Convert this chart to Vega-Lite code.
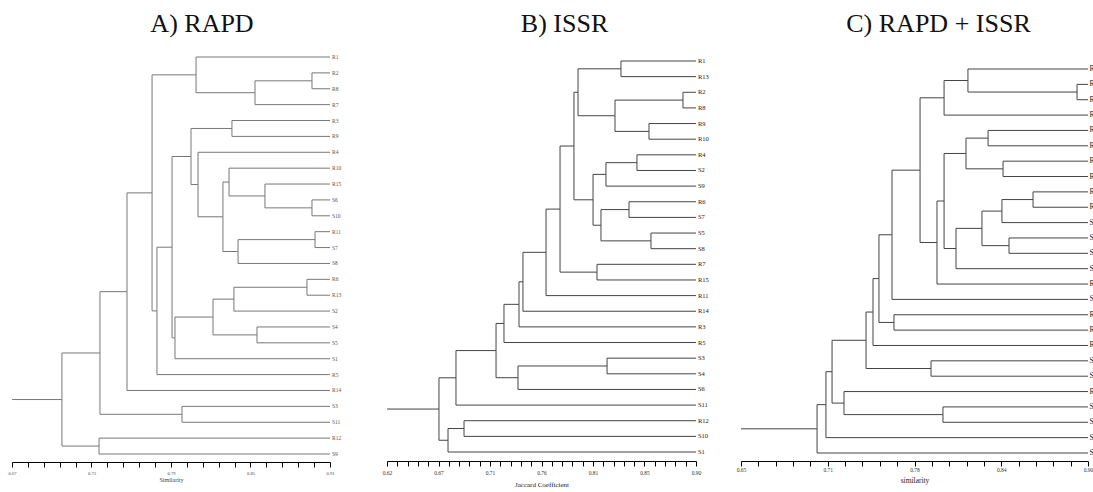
{
  "$schema": "https://vega.github.io/schema/vega-lite/v6.json",
  "padding": 0,
  "autosize": {"type": "pad"},
  "background": "white",
  "config": {"view": {"stroke": null}, "axis": {"grid": false}},
  "spacing": 45,
  "bounds": "flush",
  "datasets": {
    "A": [
      {"node": "R1", "label": "R1", "y": 0, "sim": 0.91, "parentSim": 0.8089, "parentY": 1.125},
      {"node": "R2", "label": "R2", "y": 1, "sim": 0.91, "parentSim": 0.8964, "parentY": 1.5},
      {"node": "R8", "label": "R8", "y": 2, "sim": 0.91, "parentSim": 0.8964, "parentY": 1.5},
      {"node": "R7", "label": "R7", "y": 3, "sim": 0.91, "parentSim": 0.8534, "parentY": 2.25},
      {"node": "R3", "label": "R3", "y": 4, "sim": 0.91, "parentSim": 0.836, "parentY": 4.5},
      {"node": "R9", "label": "R9", "y": 5, "sim": 0.91, "parentSim": 0.836, "parentY": 4.5},
      {"node": "R4", "label": "R4", "y": 6, "sim": 0.91, "parentSim": 0.8104, "parentY": 8.031},
      {"node": "R10", "label": "R10", "y": 7, "sim": 0.91, "parentSim": 0.8338, "parentY": 7.875},
      {"node": "R15", "label": "R15", "y": 8, "sim": 0.91, "parentSim": 0.8609, "parentY": 8.75},
      {"node": "S6", "label": "S6", "y": 9, "sim": 0.91, "parentSim": 0.8964, "parentY": 9.5},
      {"node": "S10", "label": "S10", "y": 10, "sim": 0.91, "parentSim": 0.8964, "parentY": 9.5},
      {"node": "R11", "label": "R11", "y": 11, "sim": 0.91, "parentSim": 0.8987, "parentY": 11.5},
      {"node": "S7", "label": "S7", "y": 12, "sim": 0.91, "parentSim": 0.8987, "parentY": 11.5},
      {"node": "S8", "label": "S8", "y": 13, "sim": 0.91, "parentSim": 0.8406, "parentY": 12.25},
      {"node": "R6", "label": "R6", "y": 14, "sim": 0.91, "parentSim": 0.8926, "parentY": 14.5},
      {"node": "R13", "label": "R13", "y": 15, "sim": 0.91, "parentSim": 0.8926, "parentY": 14.5},
      {"node": "S2", "label": "S2", "y": 16, "sim": 0.91, "parentSim": 0.8375, "parentY": 15.25},
      {"node": "S4", "label": "S4", "y": 17, "sim": 0.91, "parentSim": 0.8549, "parentY": 17.5},
      {"node": "S5", "label": "S5", "y": 18, "sim": 0.91, "parentSim": 0.8549, "parentY": 17.5},
      {"node": "S1", "label": "S1", "y": 19, "sim": 0.91, "parentSim": 0.793, "parentY": 17.688},
      {"node": "R5", "label": "R5", "y": 20, "sim": 0.91, "parentSim": 0.7794, "parentY": 15.988},
      {"node": "R14", "label": "R14", "y": 21, "sim": 0.91, "parentSim": 0.7568, "parentY": 14.778},
      {"node": "S3", "label": "S3", "y": 22, "sim": 0.91, "parentSim": 0.7983, "parentY": 22.5},
      {"node": "S11", "label": "S11", "y": 23, "sim": 0.91, "parentSim": 0.7983, "parentY": 22.5},
      {"node": "R12", "label": "R12", "y": 24, "sim": 0.91, "parentSim": 0.7357, "parentY": 24.5},
      {"node": "S9", "label": "S9", "y": 25, "sim": 0.91, "parentSim": 0.7357, "parentY": 24.5},
      {"node": "a1", "y": 1.5, "sim": 0.8964, "parentSim": 0.8534, "parentY": 2.25},
      {"node": "a2", "y": 2.25, "sim": 0.8534, "parentSim": 0.8089, "parentY": 1.125},
      {"node": "a3", "y": 1.125, "sim": 0.8089, "parentSim": 0.7757, "parentY": 8.557},
      {"node": "a4", "y": 4.5, "sim": 0.836, "parentSim": 0.8051, "parentY": 6.266},
      {"node": "a5", "y": 9.5, "sim": 0.8964, "parentSim": 0.8609, "parentY": 8.75},
      {"node": "a6", "y": 8.75, "sim": 0.8609, "parentSim": 0.8338, "parentY": 7.875},
      {"node": "a7", "y": 7.875, "sim": 0.8338, "parentSim": 0.8292, "parentY": 10.063},
      {"node": "a8", "y": 11.5, "sim": 0.8987, "parentSim": 0.8406, "parentY": 12.25},
      {"node": "a9", "y": 12.25, "sim": 0.8406, "parentSim": 0.8292, "parentY": 10.063},
      {"node": "a10", "y": 10.063, "sim": 0.8292, "parentSim": 0.8104, "parentY": 8.031},
      {"node": "a11", "y": 8.031, "sim": 0.8104, "parentSim": 0.8051, "parentY": 6.266},
      {"node": "a12", "y": 6.266, "sim": 0.8051, "parentSim": 0.7908, "parentY": 11.977},
      {"node": "a13", "y": 14.5, "sim": 0.8926, "parentSim": 0.8375, "parentY": 15.25},
      {"node": "a14", "y": 15.25, "sim": 0.8375, "parentSim": 0.8217, "parentY": 16.375},
      {"node": "a15", "y": 17.5, "sim": 0.8549, "parentSim": 0.8217, "parentY": 16.375},
      {"node": "a16", "y": 16.375, "sim": 0.8217, "parentSim": 0.793, "parentY": 17.688},
      {"node": "a17", "y": 17.688, "sim": 0.793, "parentSim": 0.7908, "parentY": 11.977},
      {"node": "a18", "y": 11.977, "sim": 0.7908, "parentSim": 0.7794, "parentY": 15.988},
      {"node": "a19", "y": 15.988, "sim": 0.7794, "parentSim": 0.7757, "parentY": 8.557},
      {"node": "a20", "y": 8.557, "sim": 0.7757, "parentSim": 0.7568, "parentY": 14.778},
      {"node": "a21", "y": 14.778, "sim": 0.7568, "parentSim": 0.7364, "parentY": 18.639},
      {"node": "a22", "y": 22.5, "sim": 0.7983, "parentSim": 0.7364, "parentY": 18.639},
      {"node": "a23", "y": 18.639, "sim": 0.7364, "parentSim": 0.7077, "parentY": 21.57},
      {"node": "a24", "y": 24.5, "sim": 0.7357, "parentSim": 0.7077, "parentY": 21.57},
      {"node": "root", "y": 21.57, "sim": 0.7077, "parentSim": 0.67, "parentY": 21.57}
    ],
    "B": [
      {"node": "R1", "label": "R1", "y": 0, "sim": 0.9, "parentSim": 0.832, "parentY": 0.5},
      {"node": "R13", "label": "R13", "y": 1, "sim": 0.9, "parentSim": 0.832, "parentY": 0.5},
      {"node": "R2", "label": "R2", "y": 2, "sim": 0.9, "parentSim": 0.8882, "parentY": 2.5},
      {"node": "R8", "label": "R8", "y": 3, "sim": 0.9, "parentSim": 0.8882, "parentY": 2.5},
      {"node": "R9", "label": "R9", "y": 4, "sim": 0.9, "parentSim": 0.8574, "parentY": 4.5},
      {"node": "R10", "label": "R10", "y": 5, "sim": 0.9, "parentSim": 0.8574, "parentY": 4.5},
      {"node": "R4", "label": "R4", "y": 6, "sim": 0.9, "parentSim": 0.8465, "parentY": 6.5},
      {"node": "S2", "label": "S2", "y": 7, "sim": 0.9, "parentSim": 0.8465, "parentY": 6.5},
      {"node": "S9", "label": "S9", "y": 8, "sim": 0.9, "parentSim": 0.8184, "parentY": 7.25},
      {"node": "R6", "label": "R6", "y": 9, "sim": 0.9, "parentSim": 0.8393, "parentY": 9.5},
      {"node": "S7", "label": "S7", "y": 10, "sim": 0.9, "parentSim": 0.8393, "parentY": 9.5},
      {"node": "S5", "label": "S5", "y": 11, "sim": 0.9, "parentSim": 0.8592, "parentY": 11.5},
      {"node": "S8", "label": "S8", "y": 12, "sim": 0.9, "parentSim": 0.8592, "parentY": 11.5},
      {"node": "R7", "label": "R7", "y": 13, "sim": 0.9, "parentSim": 0.8103, "parentY": 13.5},
      {"node": "R15", "label": "R15", "y": 14, "sim": 0.9, "parentSim": 0.8103, "parentY": 13.5},
      {"node": "R11", "label": "R11", "y": 15, "sim": 0.9, "parentSim": 0.7641, "parentY": 12.234},
      {"node": "R14", "label": "R14", "y": 16, "sim": 0.9, "parentSim": 0.7432, "parentY": 14.117},
      {"node": "R3", "label": "R3", "y": 17, "sim": 0.9, "parentSim": 0.7396, "parentY": 15.559},
      {"node": "R5", "label": "R5", "y": 18, "sim": 0.9, "parentSim": 0.726, "parentY": 16.779},
      {"node": "S3", "label": "S3", "y": 19, "sim": 0.9, "parentSim": 0.8194, "parentY": 19.5},
      {"node": "S4", "label": "S4", "y": 20, "sim": 0.9, "parentSim": 0.8194, "parentY": 19.5},
      {"node": "S6", "label": "S6", "y": 21, "sim": 0.9, "parentSim": 0.7387, "parentY": 20.25},
      {"node": "S11", "label": "S11", "y": 22, "sim": 0.9, "parentSim": 0.6825, "parentY": 20.257},
      {"node": "R12", "label": "R12", "y": 23, "sim": 0.9, "parentSim": 0.6898, "parentY": 23.5},
      {"node": "S10", "label": "S10", "y": 24, "sim": 0.9, "parentSim": 0.6898, "parentY": 23.5},
      {"node": "S1", "label": "S1", "y": 25, "sim": 0.9, "parentSim": 0.6753, "parentY": 24.25},
      {"node": "b1", "y": 0.5, "sim": 0.832, "parentSim": 0.7931, "parentY": 2.0},
      {"node": "b2", "y": 2.5, "sim": 0.8882, "parentSim": 0.8266, "parentY": 3.5},
      {"node": "b3", "y": 4.5, "sim": 0.8574, "parentSim": 0.8266, "parentY": 3.5},
      {"node": "b4", "y": 3.5, "sim": 0.8266, "parentSim": 0.7931, "parentY": 2.0},
      {"node": "b5", "y": 2.0, "sim": 0.7931, "parentSim": 0.7894, "parentY": 5.4375},
      {"node": "b6", "y": 6.5, "sim": 0.8465, "parentSim": 0.8184, "parentY": 7.25},
      {"node": "b7", "y": 7.25, "sim": 0.8184, "parentSim": 0.8067, "parentY": 8.875},
      {"node": "b8", "y": 9.5, "sim": 0.8393, "parentSim": 0.8139, "parentY": 10.5},
      {"node": "b9", "y": 11.5, "sim": 0.8592, "parentSim": 0.8139, "parentY": 10.5},
      {"node": "b10", "y": 10.5, "sim": 0.8139, "parentSim": 0.8067, "parentY": 8.875},
      {"node": "b11", "y": 8.875, "sim": 0.8067, "parentSim": 0.7894, "parentY": 5.4375},
      {"node": "b12", "y": 5.4375, "sim": 0.7894, "parentSim": 0.7768, "parentY": 9.469},
      {"node": "b13", "y": 13.5, "sim": 0.8103, "parentSim": 0.7768, "parentY": 9.469},
      {"node": "b14", "y": 9.469, "sim": 0.7768, "parentSim": 0.7641, "parentY": 12.234},
      {"node": "b15", "y": 12.234, "sim": 0.7641, "parentSim": 0.7432, "parentY": 14.117},
      {"node": "b16", "y": 14.117, "sim": 0.7432, "parentSim": 0.7396, "parentY": 15.559},
      {"node": "b17", "y": 15.559, "sim": 0.7396, "parentSim": 0.726, "parentY": 16.779},
      {"node": "b18", "y": 16.779, "sim": 0.726, "parentSim": 0.7188, "parentY": 18.515},
      {"node": "b19", "y": 19.5, "sim": 0.8194, "parentSim": 0.7387, "parentY": 20.25},
      {"node": "b20", "y": 20.25, "sim": 0.7387, "parentSim": 0.7188, "parentY": 18.515},
      {"node": "b21", "y": 18.515, "sim": 0.7188, "parentSim": 0.6825, "parentY": 20.257},
      {"node": "b22", "y": 20.257, "sim": 0.6825, "parentSim": 0.6671, "parentY": 22.254},
      {"node": "b23", "y": 23.5, "sim": 0.6898, "parentSim": 0.6753, "parentY": 24.25},
      {"node": "b24", "y": 24.25, "sim": 0.6753, "parentSim": 0.6671, "parentY": 22.254},
      {"node": "root", "y": 22.254, "sim": 0.6671, "parentSim": 0.62, "parentY": 22.254}
    ],
    "C": [
      {"node": "L0", "label": "R", "y": 0, "sim": 0.9, "parentSim": 0.8135, "parentY": 0.75},
      {"node": "L1", "label": "R", "y": 1, "sim": 0.9, "parentSim": 0.8921, "parentY": 1.5},
      {"node": "L2", "label": "R", "y": 2, "sim": 0.9, "parentSim": 0.8921, "parentY": 1.5},
      {"node": "L3", "label": "R", "y": 3, "sim": 0.9, "parentSim": 0.7963, "parentY": 1.875},
      {"node": "L4", "label": "R", "y": 4, "sim": 0.9, "parentSim": 0.828, "parentY": 4.5},
      {"node": "L5", "label": "R", "y": 5, "sim": 0.9, "parentSim": 0.828, "parentY": 4.5},
      {"node": "L6", "label": "R", "y": 6, "sim": 0.9, "parentSim": 0.8388, "parentY": 6.5},
      {"node": "L7", "label": "R", "y": 7, "sim": 0.9, "parentSim": 0.8388, "parentY": 6.5},
      {"node": "L8", "label": "R", "y": 8, "sim": 0.9, "parentSim": 0.8604, "parentY": 8.5},
      {"node": "L9", "label": "R", "y": 9, "sim": 0.9, "parentSim": 0.8604, "parentY": 8.5},
      {"node": "L10", "label": "S", "y": 10, "sim": 0.9, "parentSim": 0.838, "parentY": 9.25},
      {"node": "L11", "label": "S", "y": 11, "sim": 0.9, "parentSim": 0.8431, "parentY": 11.5},
      {"node": "L12", "label": "S", "y": 12, "sim": 0.9, "parentSim": 0.8431, "parentY": 11.5},
      {"node": "L13", "label": "S", "y": 13, "sim": 0.9, "parentSim": 0.8049, "parentY": 11.688},
      {"node": "L14", "label": "R", "y": 14, "sim": 0.9, "parentSim": 0.7912, "parentY": 11.297},
      {"node": "L15", "label": "S", "y": 15, "sim": 0.9, "parentSim": 0.7588, "parentY": 10.793},
      {"node": "L16", "label": "R", "y": 16, "sim": 0.9, "parentSim": 0.7602, "parentY": 16.5},
      {"node": "L17", "label": "R", "y": 17, "sim": 0.9, "parentSim": 0.7602, "parentY": 16.5},
      {"node": "L18", "label": "R", "y": 18, "sim": 0.9, "parentSim": 0.7451, "parentY": 15.823},
      {"node": "L19", "label": "S", "y": 19, "sim": 0.9, "parentSim": 0.7869, "parentY": 19.5},
      {"node": "L20", "label": "S", "y": 20, "sim": 0.9, "parentSim": 0.7869, "parentY": 19.5},
      {"node": "L21", "label": "R", "y": 21, "sim": 0.9, "parentSim": 0.7242, "parentY": 21.75},
      {"node": "L22", "label": "S", "y": 22, "sim": 0.9, "parentSim": 0.7955, "parentY": 22.5},
      {"node": "L23", "label": "S", "y": 23, "sim": 0.9, "parentSim": 0.7955, "parentY": 22.5},
      {"node": "L24", "label": "S", "y": 24, "sim": 0.9, "parentSim": 0.7112, "parentY": 21.853},
      {"node": "L25", "label": "S", "y": 25, "sim": 0.9, "parentSim": 0.7048, "parentY": 23.426},
      {"node": "c1", "y": 1.5, "sim": 0.8921, "parentSim": 0.8135, "parentY": 0.75},
      {"node": "c2", "y": 0.75, "sim": 0.8135, "parentSim": 0.7963, "parentY": 1.875},
      {"node": "c3", "y": 1.875, "sim": 0.7963, "parentSim": 0.779, "parentY": 6.586},
      {"node": "c4", "y": 4.5, "sim": 0.828, "parentSim": 0.8121, "parentY": 5.5},
      {"node": "c5", "y": 6.5, "sim": 0.8388, "parentSim": 0.8121, "parentY": 5.5},
      {"node": "c6", "y": 5.5, "sim": 0.8121, "parentSim": 0.7963, "parentY": 8.594},
      {"node": "c7", "y": 8.5, "sim": 0.8604, "parentSim": 0.838, "parentY": 9.25},
      {"node": "c8", "y": 9.25, "sim": 0.838, "parentSim": 0.8236, "parentY": 10.375},
      {"node": "c9", "y": 11.5, "sim": 0.8431, "parentSim": 0.8236, "parentY": 10.375},
      {"node": "c10", "y": 10.375, "sim": 0.8236, "parentSim": 0.8049, "parentY": 11.688},
      {"node": "c11", "y": 11.688, "sim": 0.8049, "parentSim": 0.7963, "parentY": 8.594},
      {"node": "c12", "y": 8.594, "sim": 0.7963, "parentSim": 0.7912, "parentY": 11.297},
      {"node": "c13", "y": 11.297, "sim": 0.7912, "parentSim": 0.779, "parentY": 6.586},
      {"node": "c14", "y": 6.586, "sim": 0.779, "parentSim": 0.7588, "parentY": 10.793},
      {"node": "c15", "y": 10.793, "sim": 0.7588, "parentSim": 0.7494, "parentY": 13.646},
      {"node": "c16", "y": 16.5, "sim": 0.7602, "parentSim": 0.7494, "parentY": 13.646},
      {"node": "c17", "y": 13.646, "sim": 0.7494, "parentSim": 0.7451, "parentY": 15.823},
      {"node": "c18", "y": 15.823, "sim": 0.7451, "parentSim": 0.7401, "parentY": 17.662},
      {"node": "c19", "y": 19.5, "sim": 0.7869, "parentSim": 0.7401, "parentY": 17.662},
      {"node": "c20", "y": 17.662, "sim": 0.7401, "parentSim": 0.7156, "parentY": 19.706},
      {"node": "c21", "y": 22.5, "sim": 0.7955, "parentSim": 0.7242, "parentY": 21.75},
      {"node": "c22", "y": 21.75, "sim": 0.7242, "parentSim": 0.7156, "parentY": 19.706},
      {"node": "c23", "y": 19.706, "sim": 0.7156, "parentSim": 0.7112, "parentY": 21.853},
      {"node": "c24", "y": 21.853, "sim": 0.7112, "parentSim": 0.7048, "parentY": 23.426},
      {"node": "root", "y": 23.426, "sim": 0.7048, "parentSim": 0.65, "parentY": 23.426}
    ]
  },
  "hconcat": [
    {
      "width": 330,
      "height": 462,
      "data": {"name": "A"},
      "title": {"text": "A) RAPD", "dx": 37, "offset": -58, "baseline": "alphabetic", "frame": "group", "anchor": "middle", "font": "Liberation Serif", "fontSize": 26, "fontWeight": "normal", "color": "#111"},
      "layer": [
        {
          "mark": {"type": "rule", "color": "#777", "strokeWidth": 1},
          "encoding": {
            "x": {"field": "parentSim", "type": "quantitative",
              "scale": {"domain": [0.67, 0.91], "range": [12, 330], "nice": false, "zero": false},
              "axis": {"title": "Similarity", "values": [0.67, 0.682, 0.694, 0.706, 0.718, 0.73, 0.742, 0.754, 0.766, 0.778, 0.79, 0.802, 0.814, 0.826, 0.838, 0.85, 0.862, 0.874, 0.886, 0.898, 0.91],
                "labelExpr": "abs(datum.value*100 - round(datum.value*100)) < 0.01 ? format(datum.value, '.2f') : ''",
                "labelFlush": false, "labelOverlap": false, "tickSize": 5, "tickColor": "#000", "domainColor": "#000", "tickWidth": 1, "domainWidth": 1.2,
                "labelFont": "Liberation Serif", "labelFontSize": 4.5, "labelColor": "#444", "labelPadding": 3,
                "titleFont": "Liberation Serif", "titleFontSize": 6, "titleFontWeight": "normal", "titleColor": "#444", "titlePadding": 2}},
            "x2": {"field": "sim"},
            "y": {"field": "y", "type": "quantitative", "scale": {"domain": [0, 25], "range": [57, 454], "nice": false, "zero": false}, "axis": null}
          }
        },
        {
          "mark": {"type": "rule", "color": "#777", "strokeWidth": 1},
          "encoding": {
            "x": {"field": "parentSim", "type": "quantitative",
              "scale": {"domain": [0.67, 0.91], "range": [12, 330], "nice": false, "zero": false},
              "axis": {"title": "Similarity", "values": [0.67, 0.682, 0.694, 0.706, 0.718, 0.73, 0.742, 0.754, 0.766, 0.778, 0.79, 0.802, 0.814, 0.826, 0.838, 0.85, 0.862, 0.874, 0.886, 0.898, 0.91],
                "labelExpr": "abs(datum.value*100 - round(datum.value*100)) < 0.01 ? format(datum.value, '.2f') : ''",
                "labelFlush": false, "labelOverlap": false, "tickSize": 5, "tickColor": "#000", "domainColor": "#000", "tickWidth": 1, "domainWidth": 1.2,
                "labelFont": "Liberation Serif", "labelFontSize": 4.5, "labelColor": "#444", "labelPadding": 3,
                "titleFont": "Liberation Serif", "titleFontSize": 6, "titleFontWeight": "normal", "titleColor": "#444", "titlePadding": 2}},
            "y": {"field": "y", "type": "quantitative", "scale": {"domain": [0, 25], "range": [57, 454], "nice": false, "zero": false}, "axis": null},
            "y2": {"field": "parentY"}
          }
        },
        {
          "transform": [{"filter": "datum.label"}],
          "mark": {"type": "text", "align": "left", "baseline": "middle", "dx": 2, "font": "Liberation Serif", "fontSize": 5.5, "color": "#555"},
          "encoding": {
            "x": {"field": "sim", "type": "quantitative",
              "scale": {"domain": [0.67, 0.91], "range": [12, 330], "nice": false, "zero": false},
              "axis": {"title": "Similarity", "values": [0.67, 0.682, 0.694, 0.706, 0.718, 0.73, 0.742, 0.754, 0.766, 0.778, 0.79, 0.802, 0.814, 0.826, 0.838, 0.85, 0.862, 0.874, 0.886, 0.898, 0.91],
                "labelExpr": "abs(datum.value*100 - round(datum.value*100)) < 0.01 ? format(datum.value, '.2f') : ''",
                "labelFlush": false, "labelOverlap": false, "tickSize": 5, "tickColor": "#000", "domainColor": "#000", "tickWidth": 1, "domainWidth": 1.2,
                "labelFont": "Liberation Serif", "labelFontSize": 4.5, "labelColor": "#444", "labelPadding": 3,
                "titleFont": "Liberation Serif", "titleFontSize": 6, "titleFontWeight": "normal", "titleColor": "#444", "titlePadding": 2}},
            "y": {"field": "y", "type": "quantitative", "scale": {"domain": [0, 25], "range": [57, 454], "nice": false, "zero": false}, "axis": null},
            "text": {"field": "label"}
          }
        }
      ]
    },
    {
      "width": 321,
      "height": 461,
      "data": {"name": "B"},
      "title": {"text": "B) ISSR", "dx": 29, "offset": -58, "baseline": "alphabetic", "frame": "group", "anchor": "middle", "font": "Liberation Serif", "fontSize": 26, "fontWeight": "normal", "color": "#111"},
      "layer": [
        {
          "mark": {"type": "rule", "color": "#444", "strokeWidth": 1},
          "encoding": {
            "x": {"field": "parentSim", "type": "quantitative",
              "scale": {"domain": [0.62, 0.9], "range": [12, 321], "nice": false, "zero": false},
              "axis": {"title": "Jaccard Coefficient", "values": [0.62, 0.62933, 0.63867, 0.648, 0.65733, 0.66667, 0.676, 0.68533, 0.69467, 0.704, 0.71333, 0.72267, 0.732, 0.74133, 0.75067, 0.76, 0.76933, 0.77867, 0.788, 0.79733, 0.80667, 0.816, 0.82533, 0.83467, 0.844, 0.85333, 0.86267, 0.872, 0.88133, 0.89067, 0.9],
                "labelExpr": "round((datum.value - 0.62) / 0.28 * 30) % 5 == 0 ? format(datum.value, '.2f') : ''",
                "labelFlush": false, "labelOverlap": false, "tickSize": 5, "tickColor": "#000", "domainColor": "#000", "tickWidth": 1, "domainWidth": 1.2,
                "labelFont": "Liberation Serif", "labelFontSize": 5.5, "labelColor": "#333", "labelPadding": 4,
                "titleFont": "Liberation Serif", "titleFontSize": 7, "titleFontWeight": "normal", "titleColor": "#222", "titlePadding": 5}},
            "x2": {"field": "sim"},
            "y": {"field": "y", "type": "quantitative", "scale": {"domain": [0, 25], "range": [61, 452], "nice": false, "zero": false}, "axis": null}
          }
        },
        {
          "mark": {"type": "rule", "color": "#444", "strokeWidth": 1},
          "encoding": {
            "x": {"field": "parentSim", "type": "quantitative",
              "scale": {"domain": [0.62, 0.9], "range": [12, 321], "nice": false, "zero": false},
              "axis": {"title": "Jaccard Coefficient", "values": [0.62, 0.62933, 0.63867, 0.648, 0.65733, 0.66667, 0.676, 0.68533, 0.69467, 0.704, 0.71333, 0.72267, 0.732, 0.74133, 0.75067, 0.76, 0.76933, 0.77867, 0.788, 0.79733, 0.80667, 0.816, 0.82533, 0.83467, 0.844, 0.85333, 0.86267, 0.872, 0.88133, 0.89067, 0.9],
                "labelExpr": "round((datum.value - 0.62) / 0.28 * 30) % 5 == 0 ? format(datum.value, '.2f') : ''",
                "labelFlush": false, "labelOverlap": false, "tickSize": 5, "tickColor": "#000", "domainColor": "#000", "tickWidth": 1, "domainWidth": 1.2,
                "labelFont": "Liberation Serif", "labelFontSize": 5.5, "labelColor": "#333", "labelPadding": 4,
                "titleFont": "Liberation Serif", "titleFontSize": 7, "titleFontWeight": "normal", "titleColor": "#222", "titlePadding": 5}},
            "y": {"field": "y", "type": "quantitative", "scale": {"domain": [0, 25], "range": [61, 452], "nice": false, "zero": false}, "axis": null},
            "y2": {"field": "parentY"}
          }
        },
        {
          "transform": [{"filter": "datum.label"}],
          "mark": {"type": "text", "align": "left", "baseline": "middle", "dx": 2, "font": "Liberation Serif", "fontSize": 6.5, "color": "#222"},
          "encoding": {
            "x": {"field": "sim", "type": "quantitative",
              "scale": {"domain": [0.62, 0.9], "range": [12, 321], "nice": false, "zero": false},
              "axis": {"title": "Jaccard Coefficient", "values": [0.62, 0.62933, 0.63867, 0.648, 0.65733, 0.66667, 0.676, 0.68533, 0.69467, 0.704, 0.71333, 0.72267, 0.732, 0.74133, 0.75067, 0.76, 0.76933, 0.77867, 0.788, 0.79733, 0.80667, 0.816, 0.82533, 0.83467, 0.844, 0.85333, 0.86267, 0.872, 0.88133, 0.89067, 0.9],
                "labelExpr": "round((datum.value - 0.62) / 0.28 * 30) % 5 == 0 ? format(datum.value, '.2f') : ''",
                "labelFlush": false, "labelOverlap": false, "tickSize": 5, "tickColor": "#000", "domainColor": "#000", "tickWidth": 1, "domainWidth": 1.2,
                "labelFont": "Liberation Serif", "labelFontSize": 5.5, "labelColor": "#333", "labelPadding": 4,
                "titleFont": "Liberation Serif", "titleFontSize": 7, "titleFontWeight": "normal", "titleColor": "#222", "titlePadding": 5}},
            "y": {"field": "y", "type": "quantitative", "scale": {"domain": [0, 25], "range": [61, 452], "nice": false, "zero": false}, "axis": null},
            "text": {"field": "label"}
          }
        }
      ]
    },
    {
      "width": 347,
      "height": 461,
      "data": {"name": "C"},
      "title": {"text": "C) RAPD + ISSR", "dx": 24, "offset": -58, "baseline": "alphabetic", "frame": "group", "anchor": "middle", "font": "Liberation Serif", "fontSize": 26, "fontWeight": "normal", "color": "#111"},
      "layer": [
        {
          "mark": {"type": "rule", "color": "#444", "strokeWidth": 1},
          "encoding": {
            "x": {"field": "parentSim", "type": "quantitative",
              "scale": {"domain": [0.65, 0.9], "nice": false, "zero": false},
              "axis": {"title": "similarity", "values": [0.65, 0.6625, 0.675, 0.6875, 0.7, 0.7125, 0.725, 0.7375, 0.75, 0.7625, 0.775, 0.7875, 0.8, 0.8125, 0.825, 0.8375, 0.85, 0.8625, 0.875, 0.8875, 0.9],
                "labelExpr": "round((datum.value - 0.65) / 0.0125) % 5 == 0 ? format(datum.value + 0.0001, '.2f') : ''",
                "labelFlush": false, "labelOverlap": false, "tickSize": 5, "tickColor": "#000", "domainColor": "#000", "tickWidth": 1, "domainWidth": 1.2,
                "labelFont": "Liberation Serif", "labelFontSize": 5.5, "labelColor": "#333", "labelPadding": 1,
                "titleFont": "Liberation Serif", "titleFontSize": 7.5, "titleFontWeight": "normal", "titleColor": "#222", "titlePadding": 4}},
            "x2": {"field": "sim"},
            "y": {"field": "y", "type": "quantitative", "scale": {"domain": [0, 25], "range": [69, 453], "nice": false, "zero": false}, "axis": null}
          }
        },
        {
          "mark": {"type": "rule", "color": "#444", "strokeWidth": 1},
          "encoding": {
            "x": {"field": "parentSim", "type": "quantitative",
              "scale": {"domain": [0.65, 0.9], "nice": false, "zero": false},
              "axis": {"title": "similarity", "values": [0.65, 0.6625, 0.675, 0.6875, 0.7, 0.7125, 0.725, 0.7375, 0.75, 0.7625, 0.775, 0.7875, 0.8, 0.8125, 0.825, 0.8375, 0.85, 0.8625, 0.875, 0.8875, 0.9],
                "labelExpr": "round((datum.value - 0.65) / 0.0125) % 5 == 0 ? format(datum.value + 0.0001, '.2f') : ''",
                "labelFlush": false, "labelOverlap": false, "tickSize": 5, "tickColor": "#000", "domainColor": "#000", "tickWidth": 1, "domainWidth": 1.2,
                "labelFont": "Liberation Serif", "labelFontSize": 5.5, "labelColor": "#333", "labelPadding": 1,
                "titleFont": "Liberation Serif", "titleFontSize": 7.5, "titleFontWeight": "normal", "titleColor": "#222", "titlePadding": 4}},
            "y": {"field": "y", "type": "quantitative", "scale": {"domain": [0, 25], "range": [69, 453], "nice": false, "zero": false}, "axis": null},
            "y2": {"field": "parentY"}
          }
        },
        {
          "transform": [{"filter": "datum.label"}],
          "mark": {"type": "text", "align": "left", "baseline": "middle", "dx": 1.5, "font": "Liberation Serif", "fontSize": 7.5, "color": "#222"},
          "encoding": {
            "x": {"field": "sim", "type": "quantitative",
              "scale": {"domain": [0.65, 0.9], "nice": false, "zero": false},
              "axis": {"title": "similarity", "values": [0.65, 0.6625, 0.675, 0.6875, 0.7, 0.7125, 0.725, 0.7375, 0.75, 0.7625, 0.775, 0.7875, 0.8, 0.8125, 0.825, 0.8375, 0.85, 0.8625, 0.875, 0.8875, 0.9],
                "labelExpr": "round((datum.value - 0.65) / 0.0125) % 5 == 0 ? format(datum.value + 0.0001, '.2f') : ''",
                "labelFlush": false, "labelOverlap": false, "tickSize": 5, "tickColor": "#000", "domainColor": "#000", "tickWidth": 1, "domainWidth": 1.2,
                "labelFont": "Liberation Serif", "labelFontSize": 5.5, "labelColor": "#333", "labelPadding": 1,
                "titleFont": "Liberation Serif", "titleFontSize": 7.5, "titleFontWeight": "normal", "titleColor": "#222", "titlePadding": 4}},
            "y": {"field": "y", "type": "quantitative", "scale": {"domain": [0, 25], "range": [69, 453], "nice": false, "zero": false}, "axis": null},
            "text": {"field": "label"}
          }
        }
      ]
    }
  ]
}
